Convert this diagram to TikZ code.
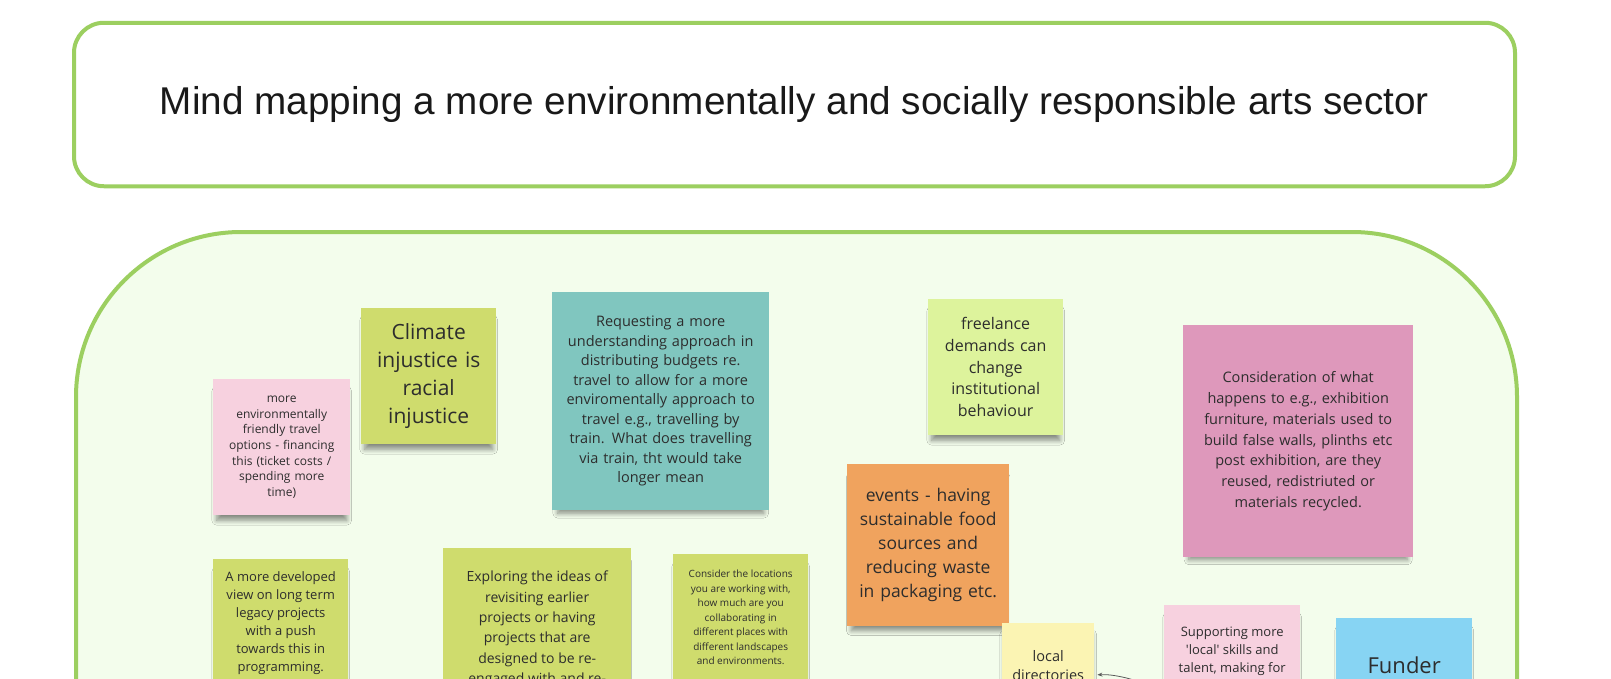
\documentclass[tikz,border=0pt]{standalone}
\usepackage{fontspec}
\setmainfont{Open Sans}
\newfontfamily\titlefont{Liberation Sans}
\usetikzlibrary{arrows.meta,shadows.blur}
\definecolor{panelfill}{HTML}{F3FDEC}
\definecolor{panelline}{HTML}{9CCF60}
\definecolor{notetext}{HTML}{2D2D2D}
\definecolor{pinklight}{HTML}{F7D1DF}
\definecolor{pinkdark}{HTML}{DE98BB}
\definecolor{olive}{HTML}{CFDC6D}
\definecolor{teal}{HTML}{80C6BF}
\definecolor{lime}{HTML}{DDF39C}
\definecolor{orange}{HTML}{F0A35E}
\definecolor{yellownote}{HTML}{FBF4B3}
\definecolor{bluenote}{HTML}{87D4F3}
\tikzset{
  titlebox/.style={draw=panelline, line width=4pt, fill=white, rounded corners=30pt,
    inner sep=0pt, text=black!90, font=\titlefont\fontsize{38.7}{44}\selectfont},
  panelbox/.style={draw=panelline, line width=4pt, fill=panelfill, rounded corners=165pt, inner sep=0pt},
  note/.style={rectangle, inner sep=0pt, align=center, text=notetext,
    blur shadow={shadow xshift=0pt, shadow yshift=-9pt, shadow scale=0.95,
      shadow blur radius=5pt, shadow blur steps=10, shadow opacity=45}},
  notetxt/.style={inner sep=0pt, align=center, text=notetext, anchor=north},
  link/.style={draw=black!65, line width=0.8pt, -{Stealth[length=5pt,width=4pt]}}
}
\begin{document}
\begin{tikzpicture}[x=1pt,y=-1pt]
\useasboundingbox (0,0) rectangle (1611,678);
\clip (0,0) rectangle (1611,678);
\fill[white] (0,0) rectangle (1611,678);

% title
\node[titlebox, minimum width=1441pt, minimum height=163.5pt] (title) at (794.5,104.5)
  {Mind mapping a more environmentally and socially responsible arts sector};

% panel
\node[panelbox, anchor=north west, minimum width=1441pt, minimum height=700pt] (panel) at (74,230) {};

% full notes
\node[note, fill=pinklight, anchor=north west, minimum width=137pt, minimum height=136pt,
  text width=137pt, font=\fontsize{12}{15.7}\selectfont] (n1) at (213,379)
  {more\\environmentally\\friendly travel\\options - financing\\this (ticket costs /\\spending more\\time)};
\node[note, fill=olive, anchor=north west, minimum width=135pt, minimum height=136pt,
  text width=135pt, font=\fontsize{21}{28}\selectfont] (n2) at (361,308)
  {Climate\\injustice is\\racial\\injustice};
\node[note, fill=teal, anchor=north west, minimum width=217pt, minimum height=218pt,
  text width=217pt, font=\fontsize{14.5}{19.5}\selectfont] (n3) at (552,292)
  {Requesting a more\\understanding approach in\\distributing budgets re.\\travel to allow for a more\\enviromentally approach to\\travel e.g., travelling by\\train. What does travelling\\via train, tht would take\\longer mean};
\node[note, fill=lime, anchor=north west, minimum width=135pt, minimum height=136pt,
  text width=135pt, font=\fontsize{16}{21.7}\selectfont] (n4) at (928,299)
  {freelance\\demands can\\change\\institutional\\behaviour};
\node[note, fill=pinkdark, anchor=north west, minimum width=230pt, minimum height=232pt,
  text width=230pt, font=\fontsize{14.5}{20.7}\selectfont] (n6) at (1183,325)
  {Consideration of what\\happens to e.g., exhibition\\furniture, materials used to\\build false walls, plinths etc\\post exhibition, are they\\reused, redistriuted or\\materials recycled.};

% bottom notes (cut by the frame)
\node[note, fill=olive, anchor=north west, minimum width=135pt, minimum height=160pt] (c1) at (213,559) {};
\node[notetxt, font=\fontsize{13}{18}\selectfont] (c1t) at ([yshift=-12.6pt]c1.north)
  {A more developed\\view on long term\\legacy projects\\with a push\\towards this in\\programming.};
\node[note, fill=olive, anchor=north west, minimum width=188pt, minimum height=160pt] (c2) at (443,548) {};
\node[notetxt, font=\fontsize{14}{20.3}\selectfont] (c2t) at ([yshift=-23pt]c2.north)
  {Exploring the ideas of\\revisiting earlier\\projects or having\\projects that are\\designed to be re-\\engaged with and re-};
\node[note, fill=olive, anchor=north west, minimum width=135pt, minimum height=160pt] (c3) at (673,554) {};
\node[notetxt, font=\fontsize{10}{14.5}\selectfont] (c3t) at ([yshift=-16pt]c3.north)
  {Consider the locations\\you are working with,\\how much are you\\collaborating in\\different places with\\different landscapes\\and environments.};

\node[note, fill=orange, anchor=north west, minimum width=162pt, minimum height=162pt,
  text width=162pt, font=\fontsize{17.5}{24}\selectfont] (n5) at (847,464)
  {events - having\\sustainable food\\sources and\\reducing waste\\in packaging etc.};

\node[note, fill=yellownote, anchor=north west, minimum width=92pt, minimum height=120pt] (c4) at (1002,623) {};
\node[notetxt, font=\fontsize{14.5}{19}\selectfont] (c4t) at ([yshift=-27pt]c4.north)
  {local\\directories};
\node[note, fill=pinklight, anchor=north west, minimum width=136pt, minimum height=140pt] (c5) at (1164,605) {};
\node[notetxt, font=\fontsize{13}{18}\selectfont] (c5t) at ([yshift=-22pt]c5.north)
  {Supporting more\\\textquotesingle local\textquotesingle{} skills and\\talent, making for};
\node[note, fill=bluenote, anchor=north west, minimum width=136pt, minimum height=140pt] (c6) at (1336,618) {};
\node[notetxt, font=\fontsize{22}{30}\selectfont] (c6t) at ([yshift=-39pt]c6.north)
  {Funder};

% connector
\coordinate (src) at (1165,692);
\coordinate (c4in) at ([yshift=-52pt]c4.north east);
\draw[link, shorten >=3pt] (src) .. controls (1135,678) and (1112,674) .. (c4in);
\end{tikzpicture}
\end{document}
